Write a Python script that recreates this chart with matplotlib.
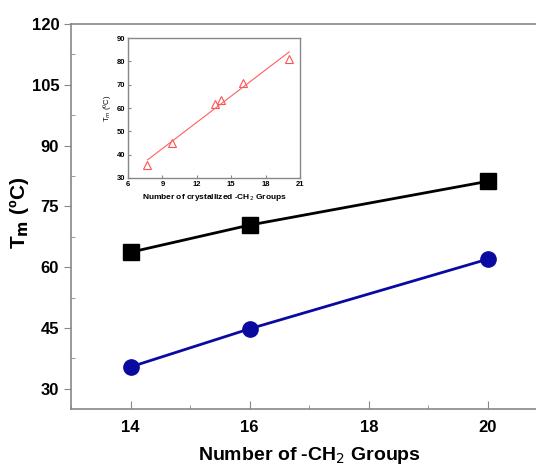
import matplotlib
matplotlib.use('Agg')
import matplotlib.pyplot as plt
from matplotlib.ticker import MultipleLocator
import numpy as np

plt.rcParams['font.family'] = ['Liberation Sans', 'DejaVu Sans']

# main data
n_ch2 = [14, 16, 20]
tm_square = [63.7, 70.4, 81.2]
tm_circle = [35.4, 44.8, 62.0]

# inset data
n_cryst = [7.7, 9.8, 13.6, 14.1, 16.0, 20.05]
tm_cryst = [35.7, 45.0, 61.9, 63.6, 70.7, 81.0]

GREY = '#888888'

fig = plt.figure(figsize=(5.36, 4.68), dpi=100)
ax = fig.add_axes([0.1325, 0.126, 0.889, 0.8226])

ax.plot(n_ch2, tm_square, color='black', lw=2, marker='s', ms=11, zorder=3)
ax.plot(n_ch2, tm_circle, color='#0a0aa0', lw=2, marker='o', ms=11, zorder=3)

ax.set_xlim(13, 21)
ax.set_ylim(25, 120)
ax.set_xticks([14, 16, 18, 20])
ax.set_yticks([30, 45, 60, 75, 90, 105, 120])
ax.xaxis.set_minor_locator(MultipleLocator(1))
ax.yaxis.set_minor_locator(MultipleLocator(7.5))
for s in ax.spines.values():
    s.set_color(GREY)
    s.set_linewidth(1.2)
ax.tick_params(axis='y', which='major', direction='out', length=5, color=GREY, labelsize=12)
ax.tick_params(axis='y', which='minor', direction='in', length=3, color=GREY)
ax.tick_params(axis='x', which='both', direction='in', color=GREY, labelsize=12, pad=8)
ax.tick_params(axis='x', which='major', length=6)
ax.tick_params(axis='x', which='minor', length=3)
for lab in ax.get_xticklabels() + ax.get_yticklabels():
    lab.set_fontweight('bold')

ax.set_xlabel('Number of -CH$_2$ Groups', fontsize=14, fontweight='bold', labelpad=7)
ax.set_ylabel('T$_\\mathbf{m}$ (\u00baC)', fontsize=15, fontweight='bold')
ax.yaxis.set_label_coords(-0.083, 0.51)

# inset
ins = fig.add_axes([0.2388, 0.6197, 0.321, 0.299])
ins.plot(n_cryst, tm_cryst, ls='none', marker='^', ms=6, mfc='none', mec='#ff5050', mew=0.8)
k, b = np.polyfit(n_cryst, tm_cryst, 1)
xf = np.array([min(n_cryst), max(n_cryst)])
ins.plot(xf, k * xf + b, color='#ff6060', lw=0.8)
ins.set_xlim(6, 21)
ins.set_ylim(30, 90)
ins.set_xticks([6, 9, 12, 15, 18, 21])
ins.set_yticks([30, 40, 50, 60, 70, 80, 90])
for s in ins.spines.values():
    s.set_color(GREY)
    s.set_linewidth(1.0)
ins.tick_params(direction='in', length=2.5, color=GREY, labelsize=5.5, pad=2)
for lab in ins.get_xticklabels() + ins.get_yticklabels():
    lab.set_fontweight('bold')
ins.set_xlabel('Number of crystallized -CH$_2$ Groups', fontsize=6, fontweight='bold', labelpad=3)
ins.set_ylabel('T$_m$ (\u00baC)', fontsize=5.5, labelpad=3)

fig.savefig('out.png', dpi=100, facecolor='white')
